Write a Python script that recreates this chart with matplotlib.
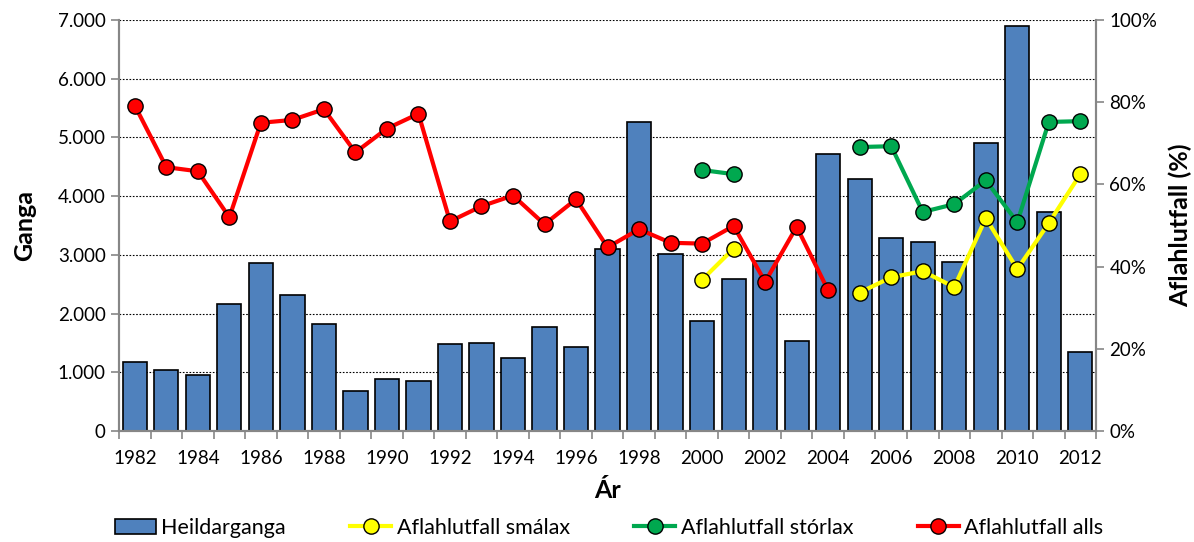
import numpy as np
import matplotlib
matplotlib.use('Agg')
from matplotlib import pyplot as plt
from matplotlib.ticker import FuncFormatter, MultipleLocator

plt.rcParams['font.family'] = ['Lato', 'DejaVu Sans']

years = list(range(1982, 2013))

heildarganga = [1175, 1039, 954, 2163, 2861, 2316, 1822, 681, 886, 852,
                1482, 1499, 1243, 1771, 1431, 3100, 5263, 3015, 1873, 2589,
                2895, 1533, 4718, 4292, 3287, 3219, 2878, 4905, 6898, 3730,
                1346]

nan = np.nan
smalax = [nan] * 18 + [36.8, 44.4, nan, nan, nan, 33.7, 37.4, 38.9, 35.0,
                       51.8, 39.4, 50.6, 62.5]
storlax = [nan] * 18 + [63.5, 62.5, nan, nan, nan, 69.1, 69.3, 53.3, 55.2,
                        61.0, 50.8, 75.2, 75.4]
alls = [79.2, 64.2, 63.2, 52.0, 75.0, 75.7, 78.3, 67.8, 73.6, 77.2,
        51.0, 54.7, 57.3, 50.3, 56.4, 44.7, 49.1, 45.8, 45.6, 49.9,
        36.3, 49.7, 34.2] + [nan] * 8

labels = ['Heildarganga', 'Aflahlutfall smálax', 'Aflahlutfall stórlax', 'Aflahlutfall alls']

GRAY = '#868686'

fig = plt.figure(figsize=(11.94, 5.42), dpi=100)
ax = fig.add_axes([0.0997, 0.2048, 0.8183, 0.7582])
ax2 = ax.twinx()

bars = ax.bar(years, heildarganga, width=0.77, color='#4F81BD',
              edgecolor='black', linewidth=1.2, zorder=2, label=labels[0])

ax.set_xlim(1981.5, 2012.5)
ax.set_ylim(0, 7000)
ax.yaxis.set_major_locator(MultipleLocator(1000))
ax.yaxis.set_major_formatter(FuncFormatter(lambda v, p: f'{int(v):,}'.replace(',', '.')))
ax.grid(axis='y', color='black', linestyle=(0, (1.5, 1.5)), linewidth=0.8, zorder=0)
ax.set_axisbelow(True)

# ticks between categories, labels every other year
ax.set_xticks(np.arange(1981.5, 2013.0, 1.0))
ax.set_xticklabels([])
ax.set_xticks(years[::2], minor=True)
ax.set_xticklabels([str(y) for y in years[::2]], minor=True)
ax.tick_params(axis='x', which='minor', length=0, labelsize=13.5, pad=14)
ax.tick_params(axis='x', which='major', length=6, color=GRAY, width=1.2)
ax.tick_params(axis='y', length=6, color=GRAY, width=1.2, labelsize=13.5)

for s in ['top']:
    ax.spines[s].set_visible(False)
    ax2.spines[s].set_visible(False)
for s in ['left', 'bottom', 'right']:
    ax.spines[s].set_color(GRAY)
    ax.spines[s].set_linewidth(1.5)
    ax2.spines[s].set_color(GRAY)
    ax2.spines[s].set_linewidth(1.5)

ax.set_ylabel('Ganga', fontsize=18, fontweight='bold', labelpad=16)
ax.set_xlabel('Ár', fontsize=18, fontweight='bold', labelpad=8)

line_kw = dict(linewidth=3.0, marker='o', markersize=11,
               markeredgecolor='black', markeredgewidth=1.0)
l1, = ax2.plot(years, smalax, color='#FFFF00', markerfacecolor='#FFFF00',
               label=labels[1], zorder=3, **line_kw)
l2, = ax2.plot(years, storlax, color='#00A84F', markerfacecolor='#00A84F',
               label=labels[2], zorder=3, **line_kw)
l3, = ax2.plot(years, alls, color='#FF0000', markerfacecolor='#FF0000',
               label=labels[3], zorder=4, **line_kw)

ax2.set_ylim(0, 100)
ax2.yaxis.set_major_locator(MultipleLocator(20))
ax2.yaxis.set_major_formatter(FuncFormatter(lambda v, p: f'{int(v)}%'))
ax2.tick_params(axis='y', length=6, color=GRAY, width=1.2, labelsize=13.5)
ax2.set_ylabel('Aflahlutfall (%)', fontsize=18, fontweight='bold', labelpad=8)

fig.legend([bars, l1, l2, l3], labels, loc='lower center',
           bbox_to_anchor=(0.51, -0.028), ncol=4, frameon=False,
           fontsize=15.5, handlelength=1.9, columnspacing=3.0,
           handletextpad=0.25)

fig.savefig('out.png', dpi=100)
